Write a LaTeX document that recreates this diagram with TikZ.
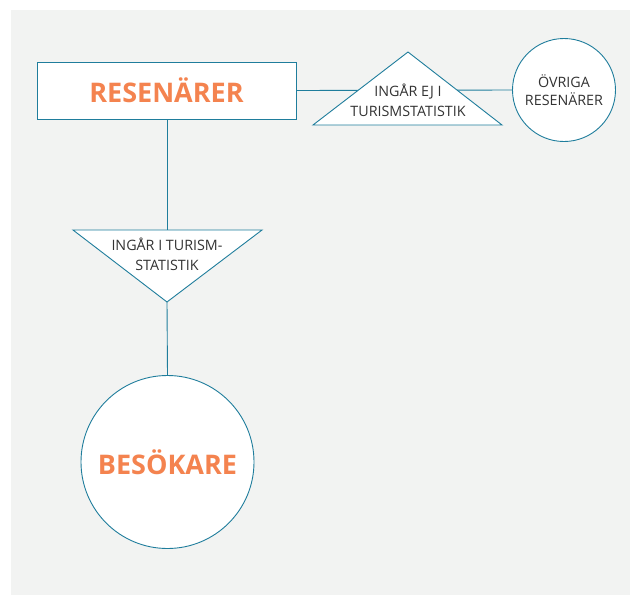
\documentclass[tikz,border=0pt]{standalone}
\usepackage{fontspec}
\setmainfont{Open Sans}
\usetikzlibrary{positioning}
\definecolor{linjebla}{HTML}{1F7D9C}
\definecolor{rubrik}{HTML}{F4834F}
\definecolor{bakgrund}{HTML}{F2F3F2}
\definecolor{brodtext}{HTML}{333333}
\tikzset{
  ruta/.style={draw=linjebla, line width=0.9pt, fill=white, inner sep=0pt},
  cirkel/.style={circle, draw=linjebla, line width=0.9pt, fill=white, inner sep=0pt},
  stor/.style={text=rubrik, font=\fontsize{27}{30}\selectfont\bfseries},
  liten/.style={text=brodtext, align=center, font=\fontsize{14.3}{20}\selectfont},
  triangel/.style={draw=linjebla, line width=0.9pt, fill=white, line join=miter},
  linje/.style={linjebla, line width=0.9pt}
}
\begin{document}
\begin{tikzpicture}[x=1pt,y=-1pt]
  \useasboundingbox (0,0) rectangle (630,595);
  \fill[bakgrund] (11,10) rectangle (630,595);
  % noder
  \node[ruta, stor, minimum width=259pt, minimum height=57pt] (resenarer) at (166.5,90.5) {RESENÄRER};
  \node[cirkel, liten, minimum size=103pt, font=\fontsize{14.3}{18}\selectfont] (ovriga) at (564,90) {ÖVRIGA\\RESENÄRER};
  \node[cirkel, stor, minimum size=173pt] (besokare) at (167.5,462) {BESÖKARE};
  \coordinate (ejtopp) at (408,52);
  \coordinate (ejvanster) at (313,125);
  \coordinate (ejhoger) at (502,125);
  \coordinate (ivanster) at (73,230);
  \coordinate (ihoger) at (262,230);
  \coordinate (itopp) at (167,230);
  \coordinate (ispets) at (167,302);
  % linjer
  \draw[linje] (resenarer.east) -- (ovriga.west);
  \draw[linje] (resenarer.south -| itopp) -- (itopp);
  \draw[linje] (ispets) -- (besokare.north);
  % trianglar
  \draw[triangel] (ejtopp) -- (ejhoger) -- (ejvanster) -- cycle;
  \draw[triangel] (ivanster) -- (ihoger) -- (ispets) -- cycle;
  \node[liten] (ejtext) at (408,100) {INGÅR EJ I\\TURISMSTATISTIK};
  \node[liten] (itext) at (167,254.5) {INGÅR I TURISM-\\STATISTIK};
\end{tikzpicture}
\end{document}
